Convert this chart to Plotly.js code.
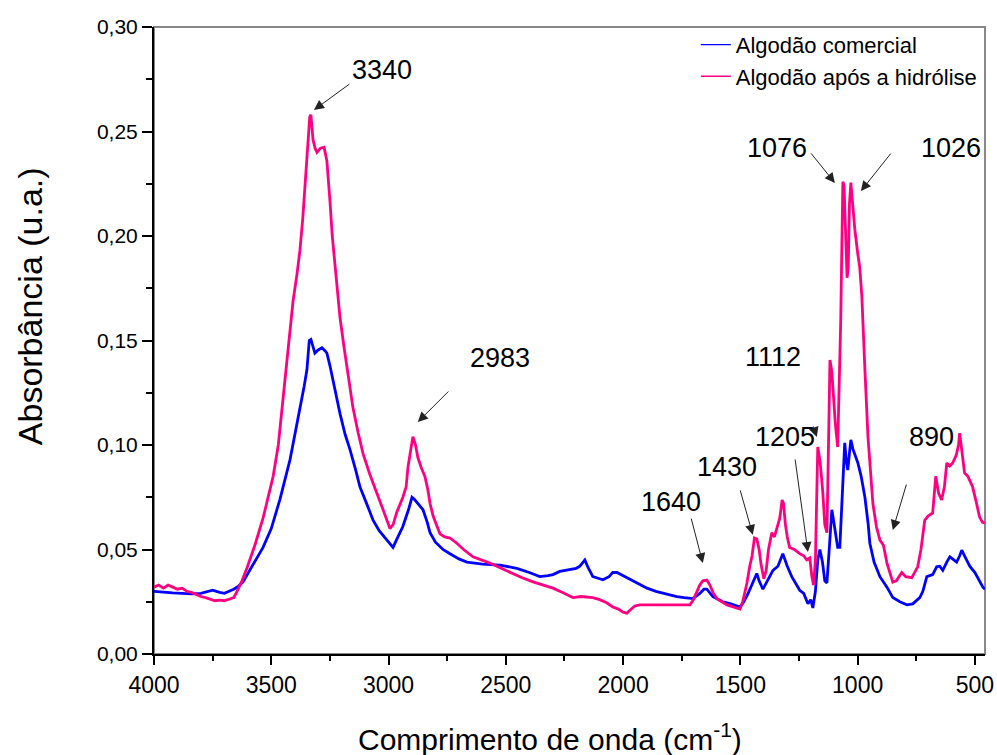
<!DOCTYPE html>
<html>
<head>
<meta charset="utf-8">
<script src="https://cdn.plot.ly/plotly-3.0.1.min.js"></script>
<style>html,body{margin:0;padding:0;background:#fff;}#chart{width:997px;height:755px;}</style>
</head>
<body>
<div id="chart"></div>
<script>
// Algodão comercial (blue)
const wnComercial = [4000,3960,3920,3880,3840,3800,3770,3750,3720,3700,3680,3660,3640,3620,3600,3570,3535,3500,3463,3420,3378,3360,3348,3338,3331,3322,3314,3300,3284,3270,3263,3250,3236,3207,3185,3165,3140,3122,3090,3066,3040,3007,2990,2981,2960,2939,2915,2900,2890,2870,2853,2835,2823,2800,2768,2738,2700,2666,2600,2525,2453,2400,2355,2320,2299,2270,2240,2200,2184,2170,2163,2150,2129,2100,2086,2060,2044,2026,2000,1971,1940,1898,1860,1813,1771,1740,1702,1673,1655,1643,1630,1617,1575,1540,1502,1485,1467,1445,1430,1420,1404,1385,1361,1340,1319,1300,1281,1260,1247,1230,1212,1200,1191,1180,1170,1161,1150,1140,1131,1120,1110,1100,1085,1076,1065,1055,1048,1042,1035,1029,1020,1010,999,985,969,955,948,930,905,875,850,820,790,765,735,722,705,680,663,650,637,620,607,590,578,565,556,540,522,500,480,466,457];
const absComercial = [0.0300,0.0295,0.0292,0.0290,0.0288,0.0290,0.0300,0.0305,0.0295,0.0290,0.0300,0.0310,0.0325,0.0345,0.0385,0.0440,0.0510,0.0600,0.0740,0.0930,0.1170,0.1280,0.1360,0.1500,0.1505,0.1470,0.1440,0.1455,0.1465,0.1450,0.1440,0.1380,0.1300,0.1150,0.1050,0.0980,0.0880,0.0800,0.0710,0.0640,0.0590,0.0545,0.0520,0.0510,0.0560,0.0610,0.0690,0.0750,0.0740,0.0715,0.0690,0.0630,0.0580,0.0535,0.0500,0.0480,0.0455,0.0440,0.0430,0.0425,0.0410,0.0390,0.0370,0.0375,0.0380,0.0395,0.0400,0.0410,0.0420,0.0440,0.0450,0.0415,0.0370,0.0360,0.0355,0.0370,0.0390,0.0390,0.0375,0.0360,0.0340,0.0315,0.0300,0.0285,0.0275,0.0270,0.0265,0.0290,0.0310,0.0310,0.0290,0.0275,0.0250,0.0240,0.0225,0.0250,0.0290,0.0350,0.0385,0.0350,0.0310,0.0350,0.0400,0.0420,0.0480,0.0420,0.0370,0.0330,0.0305,0.0290,0.0240,0.0260,0.0220,0.0300,0.0450,0.0500,0.0440,0.0350,0.0340,0.0520,0.0690,0.0620,0.0510,0.0510,0.0800,0.1010,0.0920,0.0880,0.0960,0.1025,0.0980,0.0950,0.0914,0.0850,0.0750,0.0620,0.0530,0.0440,0.0370,0.0320,0.0270,0.0250,0.0235,0.0240,0.0270,0.0300,0.0370,0.0380,0.0417,0.0420,0.0400,0.0440,0.0465,0.0450,0.0440,0.0470,0.0497,0.0460,0.0420,0.0390,0.0350,0.0320,0.0310];

// Algodão após a hidrólise (pink)
const wnHidrolise = [4000,3980,3960,3940,3920,3900,3880,3860,3840,3820,3800,3780,3760,3740,3720,3700,3680,3660,3646,3625,3604,3570,3535,3492,3470,3450,3430,3407,3390,3378,3366,3356,3343,3336,3331,3326,3322,3313,3305,3290,3275,3263,3255,3250,3240,3228,3207,3190,3178,3152,3130,3109,3080,3049,3020,2994,2980,2966,2950,2939,2925,2917,2905,2896,2885,2875,2860,2845,2833,2823,2810,2794,2781,2760,2738,2709,2680,2640,2600,2568,2520,2483,2430,2384,2340,2299,2260,2214,2180,2150,2129,2100,2070,2044,2020,2000,1984,1965,1950,1928,1886,1850,1813,1780,1750,1715,1700,1686,1673,1660,1643,1630,1615,1600,1575,1557,1530,1502,1490,1480,1472,1460,1450,1440,1430,1420,1412,1400,1390,1380,1366,1355,1345,1332,1322,1316,1308,1300,1290,1270,1247,1230,1217,1204,1195,1188,1180,1175,1170,1160,1149,1140,1131,1125,1118,1110,1106,1095,1085,1078,1072,1068,1063,1058,1050,1045,1040,1035,1029,1022,1012,1000,991,982,975,969,956,945,935,920,905,890,875,860,850,835,820,812,795,769,744,730,714,700,680,667,655,642,630,620,607,595,580,570,565,555,544,530,510,495,480,468,457];
const absHidrolise = [0.0320,0.0330,0.0315,0.0330,0.0320,0.0310,0.0315,0.0300,0.0295,0.0285,0.0275,0.0270,0.0262,0.0255,0.0258,0.0255,0.0262,0.0270,0.0300,0.0350,0.0410,0.0520,0.0650,0.0850,0.1000,0.1215,0.1450,0.1690,0.1820,0.1930,0.2080,0.2250,0.2490,0.2570,0.2580,0.2530,0.2460,0.2420,0.2400,0.2420,0.2425,0.2360,0.2250,0.2170,0.2000,0.1850,0.1610,0.1470,0.1370,0.1180,0.1060,0.0960,0.0860,0.0770,0.0680,0.0600,0.0620,0.0675,0.0720,0.0750,0.0800,0.0895,0.0980,0.1040,0.1000,0.0940,0.0890,0.0850,0.0790,0.0720,0.0660,0.0610,0.0575,0.0560,0.0555,0.0530,0.0500,0.0465,0.0450,0.0435,0.0410,0.0390,0.0365,0.0345,0.0330,0.0315,0.0295,0.0270,0.0275,0.0270,0.0270,0.0260,0.0245,0.0225,0.0215,0.0200,0.0195,0.0215,0.0230,0.0235,0.0235,0.0235,0.0235,0.0235,0.0235,0.0235,0.0260,0.0300,0.0330,0.0350,0.0354,0.0330,0.0290,0.0265,0.0245,0.0235,0.0225,0.0215,0.0250,0.0300,0.0340,0.0420,0.0470,0.0555,0.0550,0.0500,0.0430,0.0360,0.0400,0.0500,0.0580,0.0560,0.0600,0.0650,0.0737,0.0720,0.0620,0.0560,0.0510,0.0500,0.0480,0.0470,0.0450,0.0460,0.0370,0.0330,0.0450,0.0800,0.0990,0.0920,0.0780,0.0620,0.0580,0.0950,0.1407,0.1350,0.1280,0.1100,0.0990,0.1300,0.1600,0.1900,0.2260,0.2240,0.2000,0.1800,0.1850,0.2150,0.2255,0.2150,0.2030,0.1920,0.1850,0.1710,0.1550,0.1360,0.1040,0.0850,0.0720,0.0610,0.0545,0.0520,0.0435,0.0380,0.0344,0.0350,0.0375,0.0390,0.0370,0.0365,0.0417,0.0500,0.0640,0.0660,0.0675,0.0850,0.0770,0.0737,0.0800,0.0914,0.0900,0.0914,0.0950,0.1000,0.1057,0.0960,0.0866,0.0850,0.0800,0.0730,0.0655,0.0630,0.0627];

const seriesNames = ['Algodão comercial', 'Algodão após a hidrólise'];
const seriesColors = ['#0000FF', '#FF0080'];
const xTitle = 'Comprimento de onda (cm<sup>-1</sup>)';
const yTitle = 'Absorbância (u.a.)';

// Peak labels: [label, text x, text y, arrow head x, arrow head y, tail dx px, tail dy px]
const peakLabels = [
  ['3340', 3028, 0.2794, 3318, 0.2603, 37, -27],
  ['2983', 2525, 0.1416, 2875, 0.1110, 32, -32],
  ['1112', 1361, 0.1420, 1174, 0.1038, -4, -12],
  ['1640', 1796, 0.0727, 1660, 0.0435, -12, -46],
  ['1430', 1558, 0.0895, 1447, 0.0570, -13, -46],
  ['1205', 1310, 0.1038, 1212, 0.0488, -13, -94],
  ['890', 684, 0.1038, 850, 0.0593, 14, -47],
  ['1076', 1344, 0.2421, 1097, 0.2254, -25, -31],
  ['1026', 603, 0.2421, 986, 0.2215, 31, -39]
];

const FONT = 'Liberation Sans, Arial, Helvetica, sans-serif';

const traces = [
  {x: wnComercial, y: absComercial, type: 'scatter', mode: 'lines', name: seriesNames[0], showlegend: false,
   line: {color: seriesColors[0], width: 2.8}},
  {x: wnHidrolise, y: absHidrolise, type: 'scatter', mode: 'lines', name: seriesNames[1], showlegend: false,
   line: {color: seriesColors[1], width: 2.8}},
  {x: [null], y: [null], type: 'scatter', mode: 'lines', name: seriesNames[0], line: {color: seriesColors[0], width: 1.3}},
  {x: [null], y: [null], type: 'scatter', mode: 'lines', name: seriesNames[1], line: {color: seriesColors[1], width: 1.3}}
];

const annotations = [];
peakLabels.forEach(p => {
  annotations.push({x: p[1], y: p[2], xref: 'x', yref: 'y', text: p[0], showarrow: false,
    xanchor: 'center', yanchor: 'middle', font: {family: FONT, size: 27, color: '#000'}});
  annotations.push({x: p[3], y: p[4], xref: 'x', yref: 'y', text: '', showarrow: true,
    ax: p[5], ay: p[6], arrowhead: 2, arrowsize: 2, arrowwidth: 1, arrowcolor: '#222', standoff: 0});
});
// axis titles placed like the reference (off-centre)
annotations.push({xref: 'paper', yref: 'paper', x: 0.4765, y: -0.132, xanchor: 'center', yanchor: 'middle',
  text: xTitle, showarrow: false, font: {family: FONT, size: 30, color: '#000'}});
annotations.push({xref: 'paper', yref: 'paper', x: -0.149, y: 0.555, xanchor: 'center', yanchor: 'middle',
  text: yTitle, textangle: -90, showarrow: false, font: {family: FONT, size: 34, color: '#000'}});

const layout = {
  width: 997, height: 755,
  margin: {l: 154, r: 12, t: 27, b: 101},
  paper_bgcolor: '#fff', plot_bgcolor: '#fff',
  separators: ',.',
  font: {family: FONT, color: '#000', size: 22},
  showlegend: true,
  legend: {x: 0.652, y: 1.005, xanchor: 'left', yanchor: 'top', bgcolor: 'rgba(0,0,0,0)',
    font: {family: FONT, size: 22, color: '#000'}, tracegroupgap: 0, itemwidth: 30},
  xaxis: {
    range: [4000, 457], autorange: false, showgrid: false, zeroline: false,
    showline: true, linecolor: '#000', linewidth: 2,
    ticks: 'outside', ticklen: 9, tickwidth: 2, tickcolor: '#000',
    tick0: 500, dtick: 500, tickfont: {family: FONT, size: 23, color: '#000'},
    minor: {dtick: 250, tick0: 500, ticks: 'outside', ticklen: 5, tickwidth: 2, tickcolor: '#000', showgrid: false}
  },
  yaxis: {
    range: [0, 0.30], autorange: false, showgrid: false, zeroline: false,
    showline: true, linecolor: '#000', linewidth: 2,
    ticks: 'outside', ticklen: 10, tickwidth: 2, tickcolor: '#000',
    tick0: 0, dtick: 0.05, tickformat: '.2f', tickfont: {family: FONT, size: 21, color: '#000'},
    minor: {dtick: 0.025, tick0: 0, ticks: 'outside', ticklen: 6, tickwidth: 2, tickcolor: '#000', showgrid: false}
  },
  shapes: [{type: 'rect', xref: 'paper', yref: 'paper', x0: 0, x1: 1, y0: 0, y1: 1,
    line: {color: '#888', width: 2}, layer: 'below'}],
  annotations: annotations
};

Plotly.newPlot('chart', traces, layout, {staticPlot: true, displayModeBar: false});
</script>
</body>
</html>
